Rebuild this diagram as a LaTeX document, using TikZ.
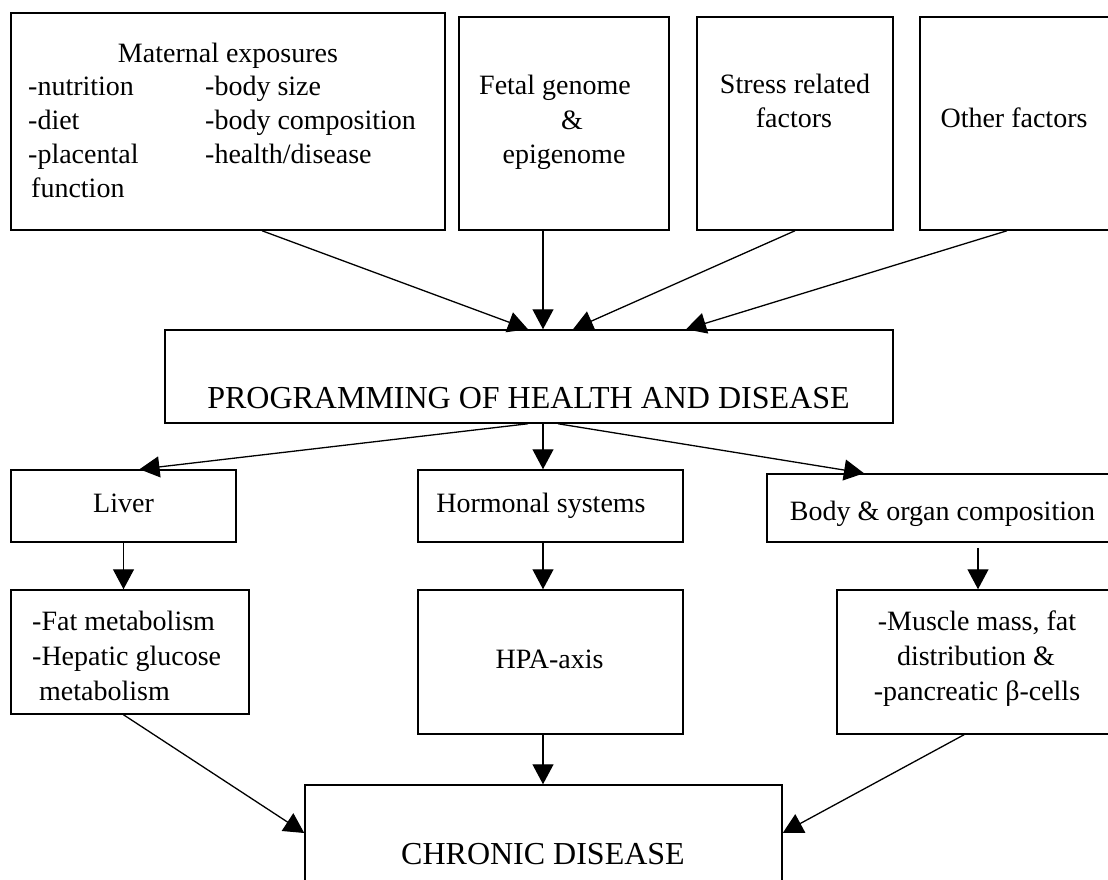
\documentclass[tikz,border=0pt]{standalone}
\usepackage{fontspec}
\setmainfont{Liberation Serif}
\usetikzlibrary{arrows.meta}
\begin{document}
\begin{tikzpicture}[x=1pt,y=-1pt,
  box/.style={draw, line width=1.5pt, inner sep=0pt},
  arr/.style={line width=1.3pt, -{Triangle[length=20pt,width=21pt]}},
  txt/.style={inner sep=0pt, font=\fontsize{28}{33}\selectfont},
  ttl/.style={inner sep=0pt, font=\fontsize{32}{38}\selectfont}]
\clip (0,0) rectangle (1108,880);
\fill[white] (0,0) rectangle (1108,880);
% boxes
\node[box, minimum width=434pt, minimum height=217pt] (mat) at (228,121.5) {};
\node[box, minimum width=210pt, minimum height=213pt] (fet) at (564,123.5) {};
\node[box, minimum width=196pt, minimum height=213pt] (str) at (795,123.5) {};
\node[box, minimum width=200pt, minimum height=213pt] (oth) at (1020,123.5) {};
\node[box, minimum width=728pt, minimum height=93pt] (prog) at (529,376.5) {};
\node[box, minimum width=225pt, minimum height=72pt] (liv) at (123.5,506) {};
\node[box, minimum width=265pt, minimum height=72pt] (hor) at (550.5,506) {};
\node[box, minimum width=353pt, minimum height=68pt] (bod) at (943.5,508) {};
\node[box, minimum width=238pt, minimum height=124pt] (fat) at (130,652) {};
\node[box, minimum width=265pt, minimum height=144pt] (hpa) at (550.5,662) {};
\node[box, minimum width=283pt, minimum height=144pt] (mus) at (978.5,662) {};
\node[box, minimum width=477pt, minimum height=115pt] (chr) at (543.5,842.5) {};
% texts
\node[txt, anchor=base] (t1) at (228,63) {Maternal exposures};
\node[txt, anchor=base west] (m1) at (28,96) {-nutrition};
\node[txt, anchor=base west] (m2) at (28,130) {-diet};
\node[txt, anchor=base west] (m3) at (28,163) {-placental};
\node[txt, anchor=base west] (m4) at (31,197) {function};
\node[txt, anchor=base west] (m5) at (205,96) {-body size};
\node[txt, anchor=base west] (m6) at (205,130) {-body composition};
\node[txt, anchor=base west] (m7) at (205,163) {-health/disease};
\node[txt, anchor=base] (f1) at (555,95) {Fetal genome};
\node[txt, anchor=base] (f2) at (572,129) {\&};
\node[txt, anchor=base] (f3) at (564,163) {epigenome};
\node[txt, anchor=base] (s1) at (795,94) {Stress related};
\node[txt, anchor=base] (s2) at (794,128) {factors};
\node[txt, anchor=base] (o1) at (1014,128) {Other factors};
\node[ttl, anchor=base] (p1) at (528.5,408) {PROGRAMMING OF HEALTH AND DISEASE};
\node[txt, anchor=base] (l1) at (123.5,512) {Liver};
\node[txt, anchor=base] (h1) at (541,512) {Hormonal systems};
\node[txt, anchor=base] (b1) at (942.5,520) {Body \& organ composition};
\node[txt, anchor=base west] (a1) at (32,630) {-Fat metabolism};
\node[txt, anchor=base west] (a2) at (32,665) {-Hepatic glucose};
\node[txt, anchor=base west] (a3) at (39,700) {metabolism};
\node[txt, anchor=base] (x1) at (549.5,668) {HPA-axis};
\node[txt, anchor=base] (u1) at (977,630) {-Muscle mass, fat};
\node[txt, anchor=base] (u2) at (976,665) {distribution \&};
\node[txt, anchor=base] (u3) at (977,700) {-pancreatic β-cells};
\node[ttl, anchor=base] (c1) at (543,864) {CHRONIC DISEASE};
% arrows
\draw[arr] ([xshift=34pt]mat.south) -- ([xshift=-1pt]prog.north);
\draw[arr] ([xshift=-21pt]fet.south) -- ([xshift=14pt]prog.north);
\draw[arr] (str.south) -- ([xshift=44pt]prog.north);
\draw[arr] ([xshift=-13pt]oth.south) -- ([xshift=157pt]prog.north);
\draw[arr] ([xshift=-1pt]prog.south) -- ([xshift=16pt]liv.north);
\draw[arr] ([xshift=14pt]prog.south) -- ([xshift=-7.5pt]hor.north);
\draw[arr] ([xshift=29pt]prog.south) -- ([xshift=-79.5pt]bod.north);
\draw[arr] (liv.south) -- (liv.south |- fat.north);
\draw[arr] ([xshift=-7.5pt]hor.south) -- ([xshift=-7.5pt]hpa.north);
\draw[arr, shorten <=5pt] ([xshift=34.5pt]bod.south) -- ([xshift=-0.5pt]mus.north);
\draw[arr] ([xshift=-6.5pt]fat.south) -- ([yshift=9.5pt]chr.west);
\draw[arr] ([xshift=-7.5pt]hpa.south) -- ([xshift=-0.5pt]chr.north);
\draw[arr] ([xshift=-14.5pt]mus.south) -- ([yshift=9.5pt]chr.east);
\end{tikzpicture}
\end{document}
